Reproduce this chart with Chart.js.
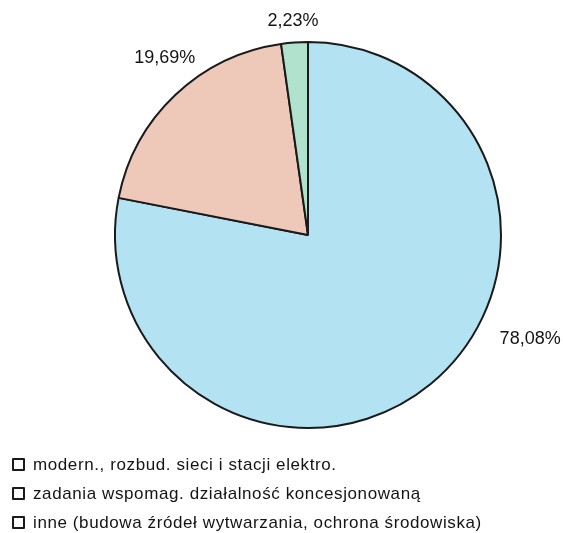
<!DOCTYPE html>
<html>
<head>
<meta charset="utf-8">
<script src="https://cdn.jsdelivr.net/npm/chart.js@4"></script>
<style>
  html, body { margin: 0; padding: 0; background: #ffffff; }
  #wrap { position: relative; width: 563px; height: 533px; }
  #pie { position: absolute; left: 0; top: 0; }
  #legend { position: absolute; left: 12px; top: 450px; margin: 0; padding: 0; list-style: none;
            font-family: "Liberation Sans", Arial, sans-serif; font-size: 17px; letter-spacing: 0.6px;
            color: #141414; }
  #legend li { height: 29px; line-height: 20px; display: flex; align-items: center; white-space: nowrap; }
  #legend .box { display: inline-block; width: 9px; height: 9px; border: 2px solid #1a1a1a;
                 background: #fff; margin-right: 8px; border-radius: 1px; }
</style>
</head>
<body>
<div id="wrap">
  <canvas id="pie" width="563" height="533"></canvas>
  <ul id="legend"></ul>
</div>
<script>
// Categories and shares (percent)
const categories = [
  "modern., rozbud. sieci i stacji elektro.",
  "zadania wspomag. działalność koncesjonowaną",
  "inne (budowa źródeł wytwarzania, ochrona środowiska)"
];
const shares = [78.08, 19.69, 2.23];
const shareLabels = ["78,08%", "19,69%", "2,23%"];
const sliceColors = ["#b3e2f2", "#eec8b8", "#b0e2cd"];

// Where each value label sits: angle (degrees clockwise from 12 o'clock) and distance as a fraction of the radius
const labelPlacement = [
  { angle: 115, dist: 1.27 },
  { angle: 321, dist: 1.18 },
  { angle: 356, dist: 1.11 }
];

const outsideLabels = {
  id: "outsideLabels",
  afterDatasetsDraw(chart) {
    const ctx = chart.ctx;
    const meta = chart.getDatasetMeta(0);
    ctx.save();
    ctx.font = "18px 'Liberation Sans', Arial, sans-serif";
    ctx.fillStyle = "#141414";
    ctx.textAlign = "center";
    ctx.textBaseline = "middle";
    meta.data.forEach((arc, i) => {
      const p = labelPlacement[i];
      const a = (p.angle - 90) * Math.PI / 180;
      const r = arc.outerRadius * p.dist;
      ctx.fillText(shareLabels[i], arc.x + Math.cos(a) * r, arc.y + Math.sin(a) * r);
    });
    ctx.restore();
  }
};

new Chart(document.getElementById("pie"), {
  type: "pie",
  data: {
    labels: categories,
    datasets: [{
      data: shares,
      backgroundColor: sliceColors,
      borderColor: "#1a1a1a",
      borderWidth: 2
    }]
  },
  options: {
    responsive: false,
    animation: false,
    rotation: 0,
    layout: { padding: { left: 114, right: 61, top: 41, bottom: 104 } },
    plugins: {
      legend: { display: false },
      tooltip: { enabled: false }
    }
  },
  plugins: [outsideLabels]
});

const legend = document.getElementById("legend");
categories.forEach(name => {
  const li = document.createElement("li");
  const box = document.createElement("span");
  box.className = "box";
  li.appendChild(box);
  li.appendChild(document.createTextNode(name));
  legend.appendChild(li);
});
</script>
</body>
</html>
